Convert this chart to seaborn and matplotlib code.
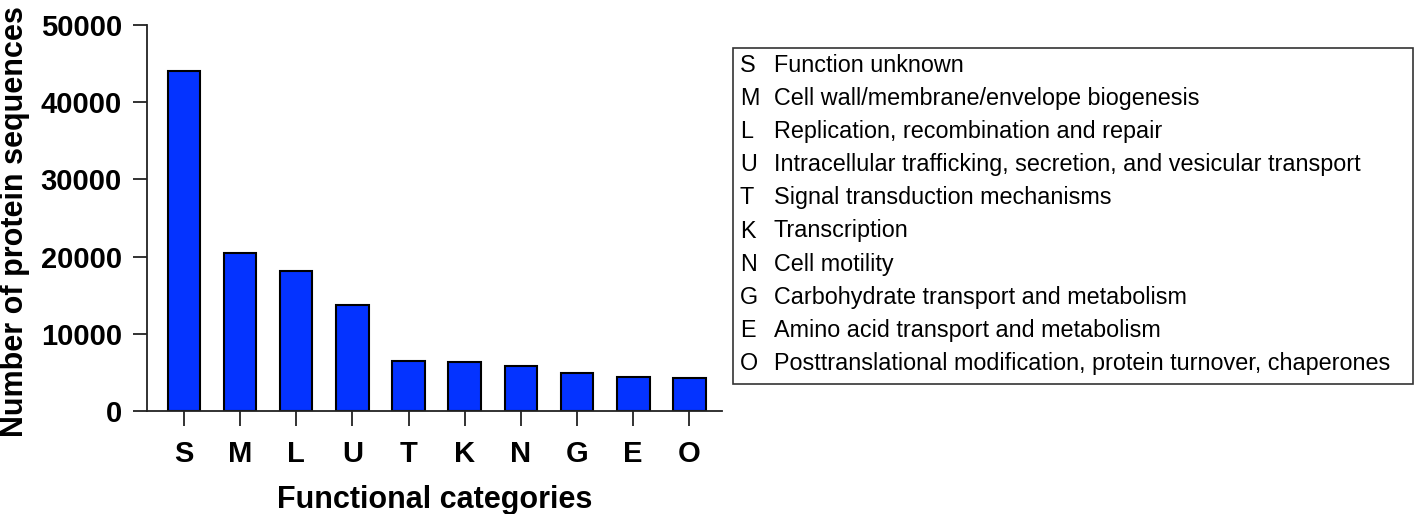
import numpy as np
import pandas as pd
import matplotlib
matplotlib.use('Agg')
import matplotlib.pyplot as plt
from matplotlib.patches import Rectangle
import seaborn as sns

# 데이터
categories = ['S', 'M', 'L', 'U', 'T', 'K', 'N', 'G', 'E', 'O']
counts = [44100, 20480, 18190, 13670, 6510, 6340, 5820, 4870, 4450, 4270]
descriptions = [
    'Function unknown',
    'Cell wall/membrane/envelope biogenesis',
    'Replication, recombination and repair',
    'Intracellular trafficking, secretion, and vesicular transport',
    'Signal transduction mechanisms',
    'Transcription',
    'Cell motility',
    'Carbohydrate transport and metabolism',
    'Amino acid transport and metabolism',
    'Posttranslational modification, protein turnover, chaperones',
]
y_ticks = [0, 10000, 20000, 30000, 40000, 50000]

df = pd.DataFrame({'category': categories, 'count': counts})

sns.set_style('ticks')
plt.rcParams['font.family'] = ['Liberation Sans', 'DejaVu Sans']
plt.rcParams['text.color'] = 'black'
plt.rcParams['axes.labelcolor'] = 'black'
plt.rcParams['xtick.color'] = 'black'
plt.rcParams['ytick.color'] = 'black'

W, H = 1417, 514
fig = plt.figure(figsize=(W / 100, H / 100), dpi=100)
ax_w = 722 - 147
ax = fig.add_axes([147 / W, 1 - 411 / H, ax_w / W, (411 - 25) / H])

sns.barplot(data=df, x='category', y='count', order=categories, color='#0433FF',
            saturation=1, width=0.58, edgecolor='black', linewidth=1.5, ax=ax)

ax.set_xlim(-0.655, 9.58)
ax.set_ylim(0, 50000)
ax.set_yticks(y_ticks)
ax.set_yticklabels([str(v) for v in y_ticks])

for side in ['top', 'right']:
    ax.spines[side].set_visible(False)
for side in ['left', 'bottom']:
    ax.spines[side].set_linewidth(1.3)
    ax.spines[side].set_color('#222222')

ax.tick_params(axis='both', direction='out', width=1.3, color='#222222')
ax.tick_params(axis='y', length=10, pad=8, labelsize=21)
ax.tick_params(axis='x', length=11, pad=10, labelsize=21)
for lab in ax.get_xticklabels() + ax.get_yticklabels():
    lab.set_fontweight('bold')

ax.set_xlabel('Functional categories', fontsize=22, fontweight='bold', labelpad=12)
ax.set_ylabel('Number of protein sequences', fontsize=22, fontweight='bold')
ax.yaxis.set_label_coords((30 - 147) / ax_w, 0.49)

# 범례 박스 (문자 + 설명)
box_l, box_t, box_r, box_b = 733, 48, 1413, 384
fig.patches.append(Rectangle((box_l / W, 1 - box_b / H), (box_r - box_l) / W, (box_b - box_t) / H,
                             transform=fig.transFigure, fill=False, edgecolor='#333333', linewidth=1.2))
row0, step = 65.5, 33.1
for i, (c, d) in enumerate(zip(categories, descriptions)):
    y = 1 - (row0 + step * i) / H
    fig.text(740 / W, y, c, fontsize=16.8, va='center', ha='left', color='black')
    fig.text(774 / W, y, d, fontsize=16.8, va='center', ha='left', color='black')

fig.savefig('out.png', dpi=100)
